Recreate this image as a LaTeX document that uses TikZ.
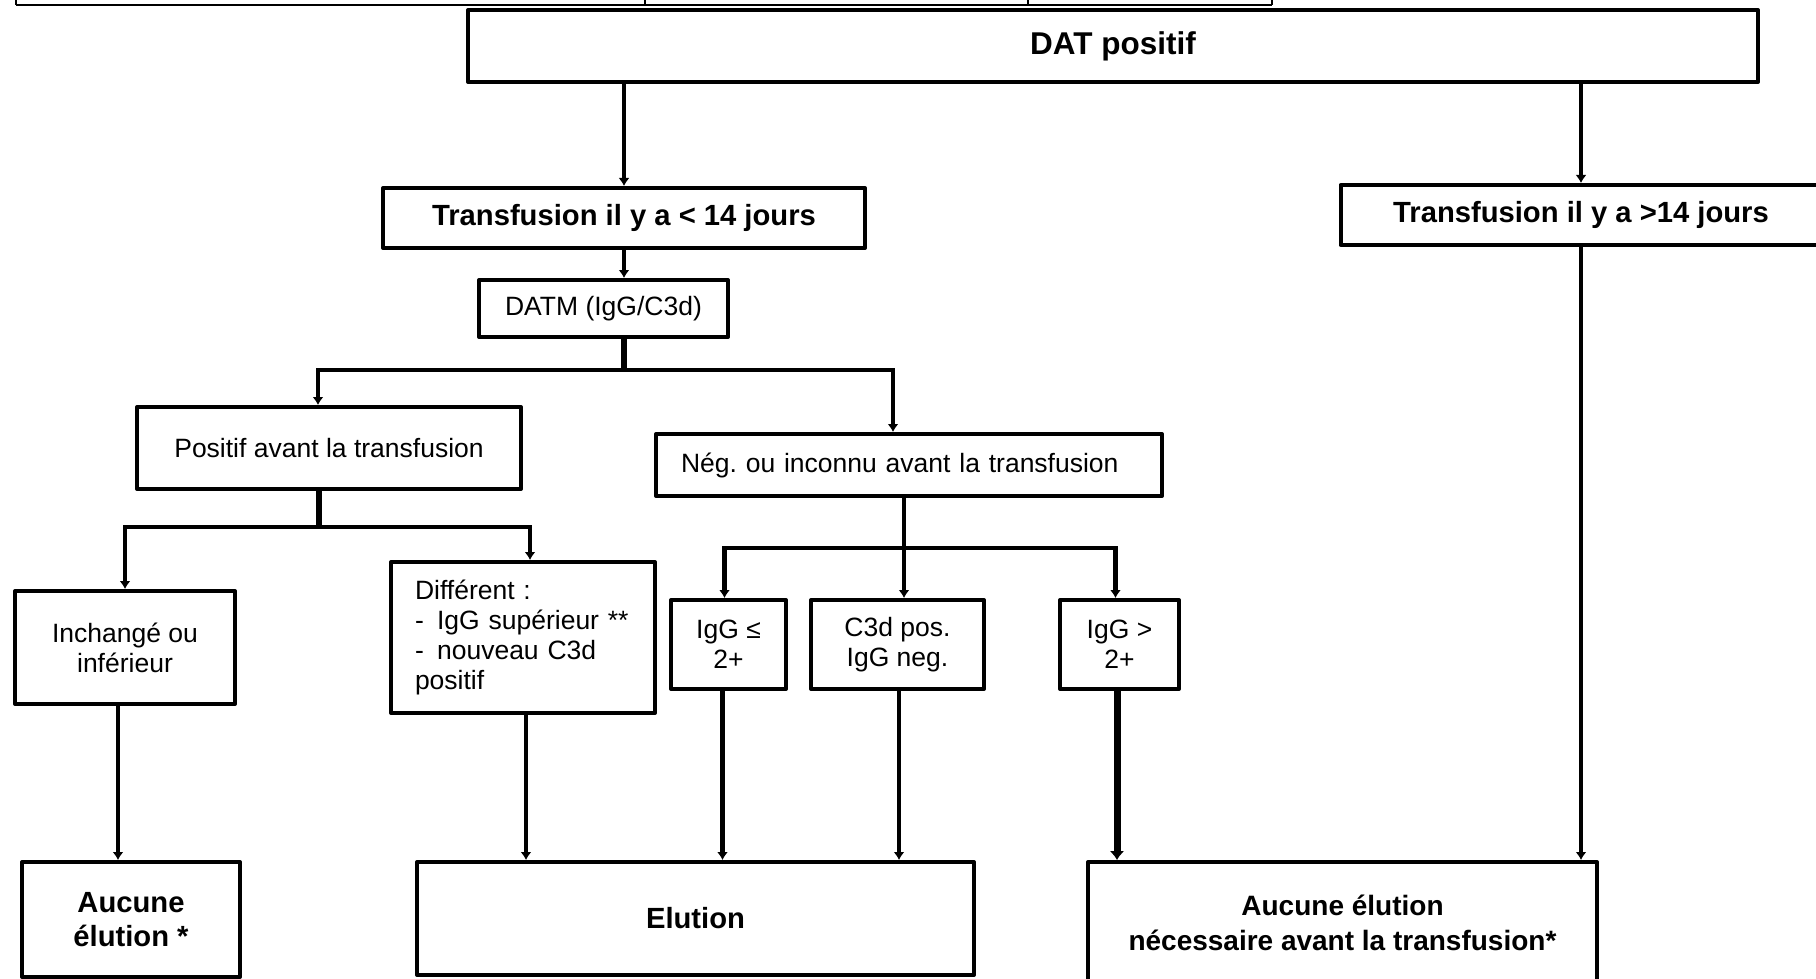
\documentclass[tikz,border=0pt]{standalone}
\usepackage{fontspec}
\setmainfont{Liberation Sans}
\usetikzlibrary{arrows.meta}
\frenchspacing

\begin{document}
\begin{tikzpicture}[
    x=1pt, y=-1pt,
    box/.style={%
      draw,
      rectangle,
      line width=4pt,
      line join=round,
      inner sep=0pt,
      align=center,
      font=\fontsize{26.5}{30}\selectfont,
    },
    bbox/.style={%
      box,
      font=\fontsize{29.2}{34.5}\selectfont\bfseries,
    },
    link/.style={line width=4.5pt},
    arr/.style={link, -{Latex[length=8pt,width=11pt]}},
  ]
    \useasboundingbox (0,0) rectangle (1816,979);
    \clip (0,0) rectangle (1816,979);

    % bottom edge of the table above
    \draw [line width=2pt] (16,5) -- (1272,5);
    \foreach \x in {16,645,1028,1272}
      \draw [line width=1.5pt] (\x,0) -- (\x,5);

    \node [bbox, minimum width=1290pt, minimum height=72pt,
      font=\fontsize{31.5}{36}\selectfont\bfseries] (dat) at (1113,46) {DAT positif};
    \node [bbox, minimum width=482pt, minimum height=60pt] (lt14) at (624,218) {Transfusion il y a < 14 jours};
    \node [bbox, minimum width=481pt, minimum height=60pt] (gt14) at (1581,215) {Transfusion il y a >14 jours};
    \node [box, minimum width=249pt, minimum height=57pt] (datm) at (603.5,308.5) {DATM (IgG/C3d)};
    \node [box, minimum width=384pt, minimum height=82pt] (avpos) at (329,448) {Positif avant la transfusion};
    \node [box, text width=456pt, inner xsep=25pt, align=left, minimum height=62pt] (avneg) at (909,465) {Nég. ou inconnu avant la transfusion};
    \node [box, minimum width=220pt, minimum height=113pt] (inch) at (125,647.5) {Inchangé ou\\inférieur};
    \node [box, text width=216pt, inner xsep=24pt, align=left, minimum height=151pt] (diff) at (523,637.5)
      {Différent :\\-\enspace IgG supérieur **\\-\enspace nouveau C3d\\positif};
    \node [box, minimum width=115pt, minimum height=89pt] (igle) at (728.5,644.5) {IgG ≤\\2+};
    \node [box, minimum width=173pt, minimum height=89pt] (c3d) at (897.5,644.5) {C3d pos.\\IgG neg.};
    \node [box, minimum width=119pt, minimum height=89pt] (iggt) at (1119.5,644.5) {IgG >\\2+};
    \node [bbox, minimum width=218pt, minimum height=115pt] (noelu) at (131,919.5) {Aucune\\élution *};
    \node [bbox, minimum width=557pt, minimum height=113pt] (elu) at (695.5,918.5) {Elution};
    \node [bbox, minimum width=509pt, minimum height=122pt,
      font=\fontsize{28}{34.5}\selectfont\bfseries] (noelub) at (1342.5,923)
      {Aucune élution\\nécessaire avant la transfusion*};

    % from the top box
    \draw [arr] (lt14.north |- dat.south) -- (lt14.north);
    \draw [arr] (gt14.north |- dat.south) -- (gt14.north);
    \draw [arr] (lt14.south) -- (lt14.south |- datm.north);

    % under DATM
    \draw [link, line width=6pt] (lt14.south |- datm.south) -- ++(0,31) coordinate (jd);
    \draw [arr] (jd) -| ([xshift=-11pt]avpos.north);
    \draw [arr] (jd) -| ([xshift=-16pt]avneg.north);

    % under the two cases
    \draw [link, line width=6.5pt] ([xshift=-10pt]avpos.south) -- ++(0,36) coordinate (jp);
    \draw [arr] (jp) -| (inch.north);
    \draw [arr] (jp) -| ([xshift=7pt]diff.north);
    \draw [link] ([xshift=-5pt]avneg.south) -- ++(0,50) coordinate (jn);
    \draw [arr] (jn) -| ([xshift=-4pt]igle.north);
    \draw [arr] (jn) -- (jn |- c3d.north);
    \draw [arr] (jn) -| ([xshift=-4pt]iggt.north);

    % down to the results
    \draw [arr] ([xshift=-7pt]inch.south) -- ([xshift=-7pt]inch.south |- noelu.north);
    \draw [arr] ([xshift=3pt]diff.south) -- ([xshift=3pt]diff.south |- elu.north);
    \draw [arr] ([xshift=-6pt]igle.south) -- ([xshift=-6pt]igle.south |- elu.north);
    \draw [arr] ([xshift=1.5pt]c3d.south) -- ([xshift=1.5pt]c3d.south |- elu.north);
    \draw [arr, line width=7pt, -{Latex[length=9pt,width=15pt]}] ([xshift=-2.5pt]iggt.south) -- ([xshift=-2.5pt]iggt.south |- noelub.north);
    \draw [arr] (gt14.south) -- (gt14.south |- noelub.north);
\end{tikzpicture}
\end{document}
